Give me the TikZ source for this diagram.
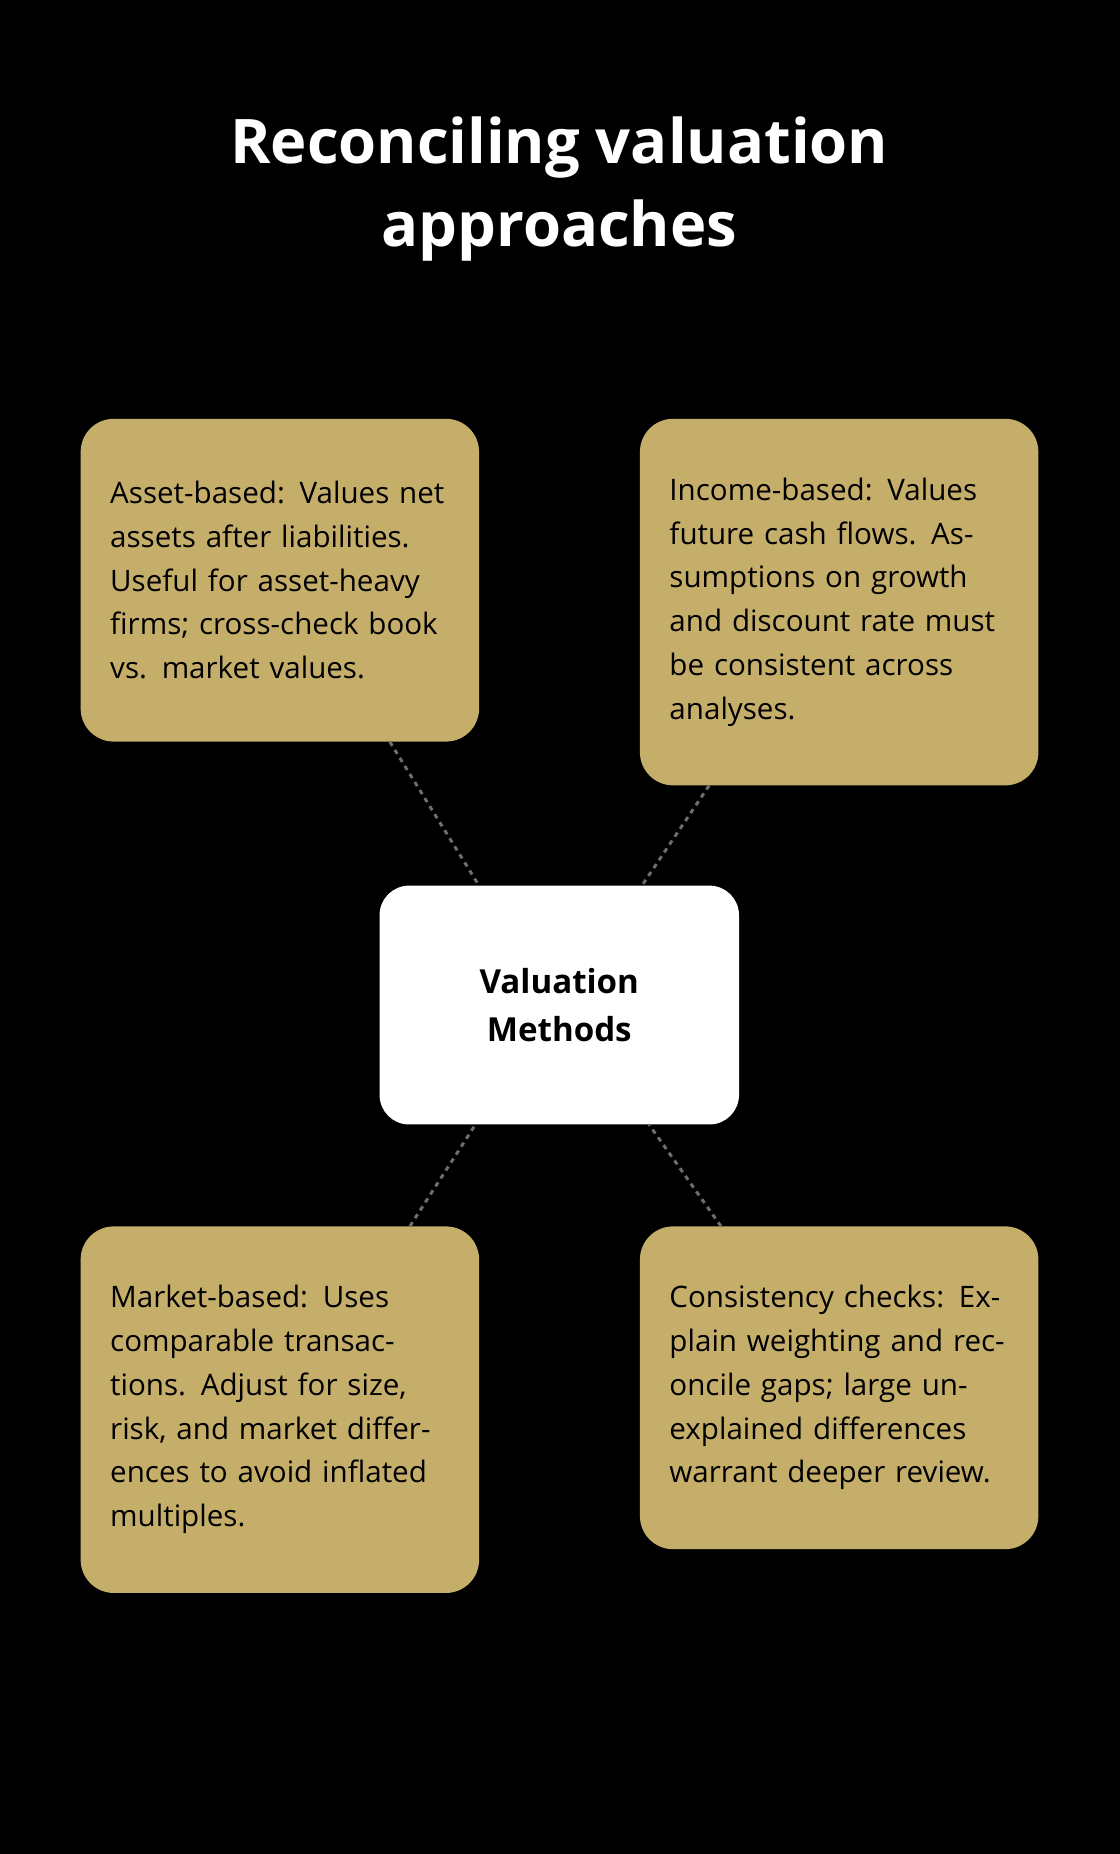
\documentclass[tikz,border=0pt]{standalone}
\usepackage{fontspec}
\setmainfont{Open Sans}
\usepackage{tikz}
\definecolor{goldbox}{HTML}{C5AE6A}
\definecolor{linkgray}{HTML}{6E6E6E}

\begin{document}
\begin{tikzpicture}[
                    x=1pt, y=-1pt,
                    card/.style={
                        draw=none,
                        fill=goldbox,
                        rounded corners=28pt,
                        anchor=north west,
                        align=left,
                        text width=287pt,
                        minimum width=337pt,
                        inner xsep=25pt,
                        inner ysep=24pt,
                        font=\fontsize{25}{37}\selectfont
                    },
                    link/.style={
                        draw=linkgray,
                        line width=2.5pt,
                        dash pattern=on 4pt off 4pt
                    }
                ]
                    \fill[black] (0,0) rectangle (947,1568);

                    \node[text=white, align=center, font=\fontsize{52}{70}\selectfont\bfseries] (title) at (473,160) {Reconciling valuation\\approaches};

                    \node[card, minimum height=273pt] (asset) at (68,354) {Asset-based: Values net assets after liabilities. Useful for asset-heavy firms; cross-check book vs. market values.};
                    \node[card, minimum height=310pt] (income) at (541,354) {Income-based: Values future cash flows. Assumptions on growth and discount rate must be consistent across analyses.};
                    \node[card, minimum height=310pt] (market) at (68,1037) {Market-based: Uses comparable transactions. Adjust for size, risk, and market differences to avoid inflated multiples.};
                    \node[card, minimum height=273pt] (checks) at (541,1037) {Consistency checks: Explain weighting and reconcile gaps; large unexplained differences warrant deeper review.};

                    \node[fill=white, rounded corners=25pt, minimum width=304pt, minimum height=202pt, align=center, font=\fontsize{28}{40}\selectfont\bfseries] (methods) at (473,850) {Valuation\\Methods};

                    % Links
                    \draw[link] ([xshift=93pt]asset.south) -- ([xshift=-68pt]methods.north);
                    \draw[link] ([xshift=-110pt]income.south) -- ([xshift=70pt]methods.north);
                    \draw[link] ([xshift=110pt]market.north) -- ([xshift=-71pt]methods.south);
                    \draw[link] ([xshift=-100pt]checks.north) -- ([xshift=76pt]methods.south);
                \end{tikzpicture}
\end{document}
